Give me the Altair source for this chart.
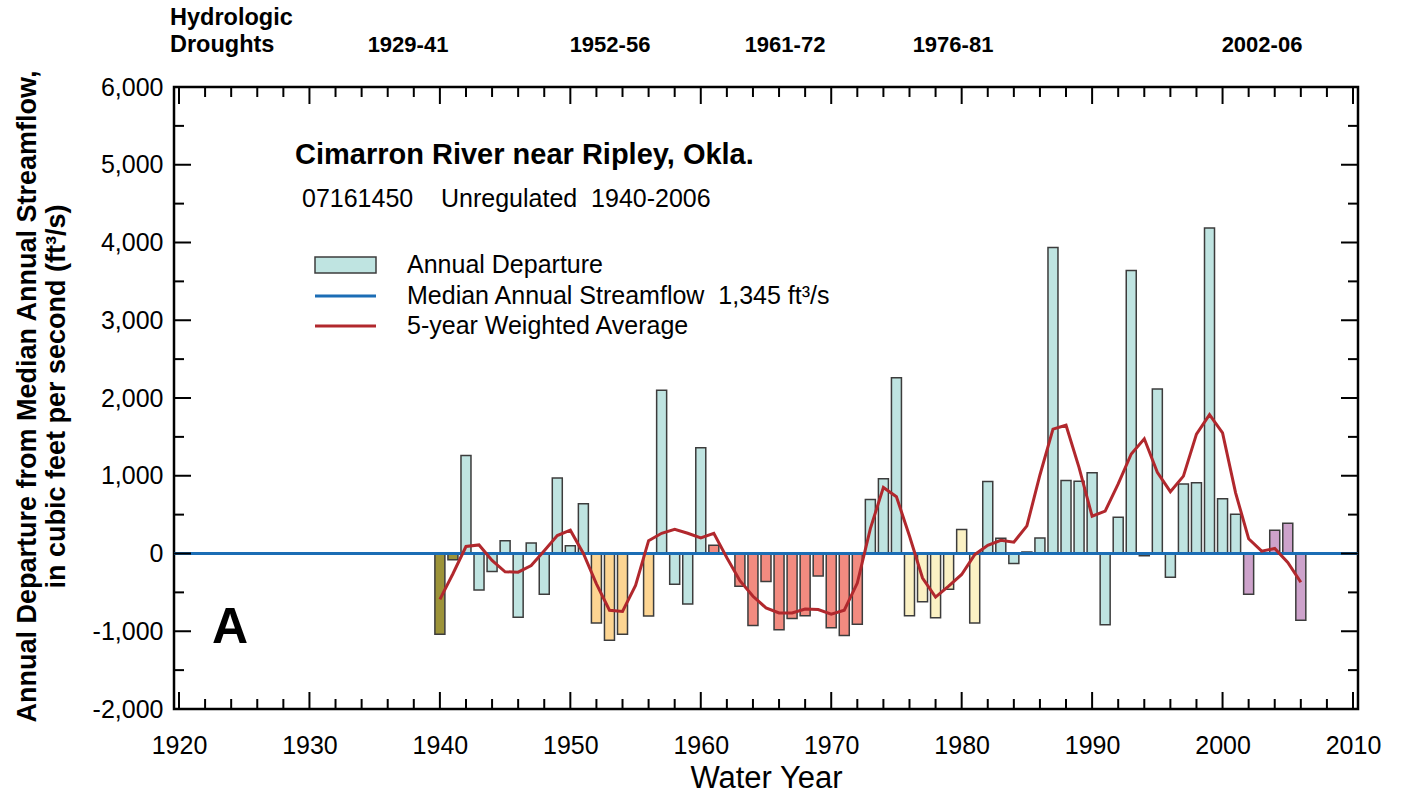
import altair as alt
import pandas as pd

# ---- data -------------------------------------------------------------
years = list(range(1940, 2007))

# annual departure from the median annual streamflow (ft3/s)
departure = [
    -1040, -80, 1260, -470, -230, 165, -820, 135, -525, 970,
    100, 640, -895, -1115, -1040, 0, -805, 2100, -395, -650,
    1360, 105, 0, -420, -925, -360, -980, -835, -800, -290,
    -955, -1055, -910, 695, 960, 2260, -800, -620, -825, -460,
    310, -895, 925, 195, -130, 20, 200, 3935, 940, 930,
    1040, -915, 465, 3640, -30, 2115, -305, 895, 910, 4185,
    705, 505, -525, 0, 300, 390, -860,
]

# 5-year weighted average of the departures
weighted_avg = [
    -590, -260, 90, 110, -90, -235, -240, -155, 35, 230,
    300, 0, -390, -730, -745, -410, 165, 260, 310, 260,
    200, 260, -55, -350, -550, -700, -765, -765, -715, -720,
    -780, -730, -380, 320, 850, 730, 225, -315, -560, -420,
    -270, -15, 105, 170, 145, 355, 1010, 1600, 1650, 1105,
    480, 545, 895, 1280, 1475, 1045, 795, 995, 1535, 1785,
    1550, 780, 190, 30, 65, -115, -370,
]

drought_labels = ["1929-41", "1952-56", "1961-72", "1976-81", "2002-06"]
drought_start = [1929, 1952, 1961, 1976, 2002]
drought_end = [1941, 1956, 1972, 1981, 2006]
drought_colors = ["#9c9339", "#fdd592", "#f28b80", "#fbf1c4", "#cda2cb"]
wet_color = "#bfe4e1"

median_flow = "1,345"

x_major = list(range(1920, 2011, 10))
x_minor = [y for y in range(1920, 2011, 2) if y % 10]
y_major = list(range(-2000, 6001, 1000))
y_minor = list(range(-1500, 6000, 1000))

# ---- styling ----------------------------------------------------------
W, H = 1184, 622
FONT = "Liberation Sans"
BAR_EDGE = "#3c3c3c"
MEDIAN_BLUE = "#1b6db5"
AVG_RED = "#b1282d"
NB = "\u00a0"  # non-breaking space keeps the wide gaps in SVG text


def period_of(year):
    for lab, s, e in zip(drought_labels, drought_start, drought_end):
        if s <= year <= e:
            return lab
    return "wet"


df = pd.DataFrame({
    "year": years,
    "departure": departure,
    "avg": weighted_avg,
    "period": [period_of(y) for y in years],
})

xs = alt.Scale(domain=[1920, 2010], nice=False, zero=False)
ys = alt.Scale(domain=[-2000, 6000], nice=False, zero=False)

x_axis = alt.Axis(
    values=x_major, format="d", ticks=False, domain=False, grid=False,
    labelFontSize=25, labelPadding=24, labelColor="black",
    title="Water Year", titleFontSize=31, titleFontWeight="normal",
    titleColor="black", titlePadding=5,
)
y_axis = alt.Axis(
    values=y_major, ticks=False, domain=False, grid=False,
    labelExpr="(datum.value < 0 ? '-' : '') + format(abs(datum.value), ',')",
    labelFontSize=25, labelPadding=11, labelColor="black",
    title=["Annual Departure from Median Annual Streamflow,",
           "in cubic feet per second (ft\u00b3/s)"],
    titleFontSize=27, titleFontWeight="bold", titleColor="black",
    titleX=-147, titleY=H / 2 - 2, titleAngle=270, titleAlign="center",
    titleBaseline="middle", titleLineHeight=29,
)

X = alt.X("year:Q", scale=xs, axis=x_axis)

bars = alt.Chart(df).mark_bar(size=10, stroke=BAR_EDGE, strokeWidth=1.5).encode(
    x=X,
    y=alt.Y("departure:Q", scale=ys, axis=y_axis),
    y2=alt.datum(0),
    color=alt.Color(
        "period:N",
        scale=alt.Scale(domain=drought_labels + ["wet"],
                        range=drought_colors + [wet_color]),
        legend=None,
    ),
)

median = alt.Chart(pd.DataFrame({"departure": [0]})).mark_rule(
    color=MEDIAN_BLUE, strokeWidth=3
).encode(y=alt.Y("departure:Q", scale=ys, axis=y_axis))

avg_line = alt.Chart(df).mark_line(color=AVG_RED, strokeWidth=3).encode(
    x=X, y=alt.Y("avg:Q", scale=ys, axis=y_axis)
)


# inward-pointing ticks on all four sides of the frame
def x_ticks(vals, length):
    d = pd.DataFrame({"year": vals})
    base = alt.Chart(d).mark_rule(color="black", strokeWidth=2)
    bottom = base.encode(x=X, y=alt.value(H), y2=alt.value(H - length))
    top = base.encode(x=X, y=alt.value(0), y2=alt.value(length))
    return [bottom, top]


def y_ticks(vals, length):
    d = pd.DataFrame({"departure": vals})
    base = alt.Chart(d).mark_rule(color="black", strokeWidth=2)
    Y = alt.Y("departure:Q", scale=ys, axis=y_axis)
    left = base.encode(y=Y, x=alt.value(0), x2=alt.value(length))
    right = base.encode(y=Y, x=alt.value(W), x2=alt.value(W - length))
    return [left, right]


ticks = x_ticks(x_major, 17) + x_ticks(x_minor, 10) + y_ticks(y_major, 17) + y_ticks(y_minor, 10)


def note(text, x, y, size, weight="normal", align="left"):
    return alt.Chart(pd.DataFrame({"t": [text]})).mark_text(
        fontSize=size, fontWeight=weight, align=align, baseline="middle",
        color="black", font=FONT,
    ).encode(text="t:N", x=alt.value(x), y=alt.value(y))


drought_x = [234, 436, 611, 779, 1088]
notes = [
    note("Hydrologic", -4, -69, 23.5, "bold"),
    note("Droughts", -4, -42, 23.5, "bold"),
]
notes += [note(lab, x, -42, 22, "bold", "center") for lab, x in zip(drought_labels, drought_x)]
notes += [
    note("Cimarron River near Ripley, Okla.", 121, 68, 29, "bold"),
    note(f"07161450{NB * 4}Unregulated{NB * 2}1940-2006", 128, 112, 25),
    note("Annual Departure", 233, 178, 25),
    note(f"Median Annual Streamflow{NB * 2}{median_flow} ft\u00b3/s", 233, 209, 25),
    note("5-year Weighted Average", 233, 239, 25),
    note("A", 38, 541, 50, "bold"),
]

one = pd.DataFrame({"k": [0]})
legend_marks = [
    alt.Chart(one).mark_rect(fill=wet_color, stroke=BAR_EDGE, strokeWidth=1.5).encode(
        x=alt.value(141), x2=alt.value(202), y=alt.value(170), y2=alt.value(186)
    ),
    alt.Chart(one).mark_rule(color=MEDIAN_BLUE, strokeWidth=3).encode(
        x=alt.value(141), x2=alt.value(202), y=alt.value(209)
    ),
    alt.Chart(one).mark_rule(color=AVG_RED, strokeWidth=3).encode(
        x=alt.value(141), x2=alt.value(202), y=alt.value(239)
    ),
]

chart = alt.layer(
    bars, median, avg_line, *ticks, *legend_marks, *notes
).properties(
    width=W, height=H,
    padding={"left": 174, "top": 87, "right": 52, "bottom": 90},
    autosize=alt.AutoSizeParams(type="none"),
    background="white",
).configure(font=FONT).configure_view(stroke="black", strokeWidth=2.5)

chart.save("out.html", embed_options={"renderer": "svg", "actions": False})
